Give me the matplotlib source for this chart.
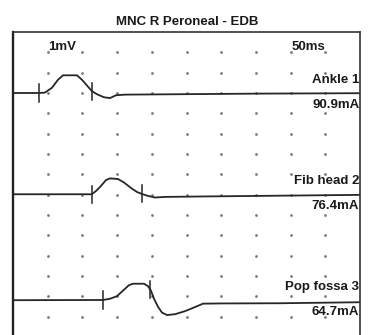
import numpy as np
import matplotlib
matplotlib.use('Agg')
import matplotlib.pyplot as plt

# traces: time (ms) and amplitude (mV), 1 mV and 5 ms per division
t_ankle = [0, 3.75, 4.61, 5.62, 6.48, 7.20, 9.22, 9.94, 10.81, 11.38, 12.10,
           13.11, 13.98, 14.84, 16.14, 24.06, 35.59, 50.0]
v_ankle = [0, 0, 0.02, 0.26, 0.65, 0.87, 0.87, 0.65, 0.31, 0.09, -0.06,
           -0.21, -0.25, -0.11, -0.08, -0.06, -0.03, -0.01]

t_fib = [0, 11.34, 11.96, 12.68, 13.40, 13.98, 15.13, 15.99, 17.00, 17.87,
         18.59, 19.45, 20.46, 21.90, 26.95, 35.59, 50.0]
v_fib = [0, 0, 0.16, 0.41, 0.70, 0.78, 0.75, 0.58, 0.31, 0.11,
         0.01, -0.08, -0.16, -0.13, -0.11, -0.08, -0.03]

t_pop = [0, 12.97, 13.98, 14.99, 15.85, 16.71, 17.29, 18.88, 19.45, 19.88,
         20.32, 20.89, 21.47, 22.19, 23.34, 24.78, 26.22, 27.38, 29.83, 38.47, 50.0]
v_pop = [-0.01, 0, 0.06, 0.19, 0.46, 0.73, 0.80, 0.80, 0.68, 0.46,
         0.06, -0.33, -0.62, -0.74, -0.70, -0.55, -0.35, -0.18, -0.17, -0.16, -0.11]

site_names = ["Ankle 1", "Fib head 2", "Pop fossa 3"]
stim_mA = ["90.9mA", "76.4mA", "64.7mA"]
baselines = [-3.0, -7.98, -13.18]
cursors = [(3.75, 11.38), (11.34, 18.54), (12.93, 19.81)]

traces = [(t_ankle, v_ankle), (t_fib, v_fib), (t_pop, v_pop)]

fig = plt.figure(figsize=(3.7, 3.35), dpi=100)
ax = fig.add_axes([13 / 370, -2 / 335, 347 / 370, 305 / 335])
ax.set_xlim(0, 50)
ax.set_ylim(-15, 0)
ax.set_xticks([])
ax.set_yticks([])
ax.spines['bottom'].set_visible(False)
for s in ['top', 'right']:
    ax.spines[s].set_linewidth(1.2)
    ax.spines[s].set_color('#333333')
ax.spines['left'].set_linewidth(1.7)
ax.spines['left'].set_color('#222222')

# dot grid
gx, gy = np.meshgrid(np.arange(5, 50, 5), np.arange(-1, -15, -1))
ax.plot(gx.ravel(), gy.ravel(), 'o', ms=2.0, color='#7a7a7a', mec='none')

ink = '#262626'
for (t, v), base, (c1, c2) in zip(traces, baselines, cursors):
    t = np.array(t)
    v = np.array(v) + base
    ax.plot(t, v, color=ink, lw=1.3, solid_joinstyle='round')
    for c in (c1, c2):
        yc = np.interp(c, t, v)
        ax.plot([c, c], [yc - 0.42, yc + 0.42], color=ink, lw=1.1)

font = dict(family='Liberation Sans', weight='bold', color='#1a1a1a', fontsize=9.5)
ax.text(5.0, -0.72, "1mV", ha='left', va='center', **font)
ax.text(40.2, -0.72, "50ms", ha='left', va='center', **font)
for name, ma, base in zip(site_names, stim_mA, baselines):
    ax.text(49.9, base + 0.64, name, ha='right', va='center', **font)
    ax.text(49.9, base - 0.59, ma, ha='right', va='center', **font)

fig.text(187 / 370, 1 - 22 / 335, "MNC R Peroneal - EDB", ha='center', va='center',
         family='Liberation Sans', weight='bold', fontsize=9.5, color='#1a1a1a')

fig.savefig("out.png", dpi=100)
